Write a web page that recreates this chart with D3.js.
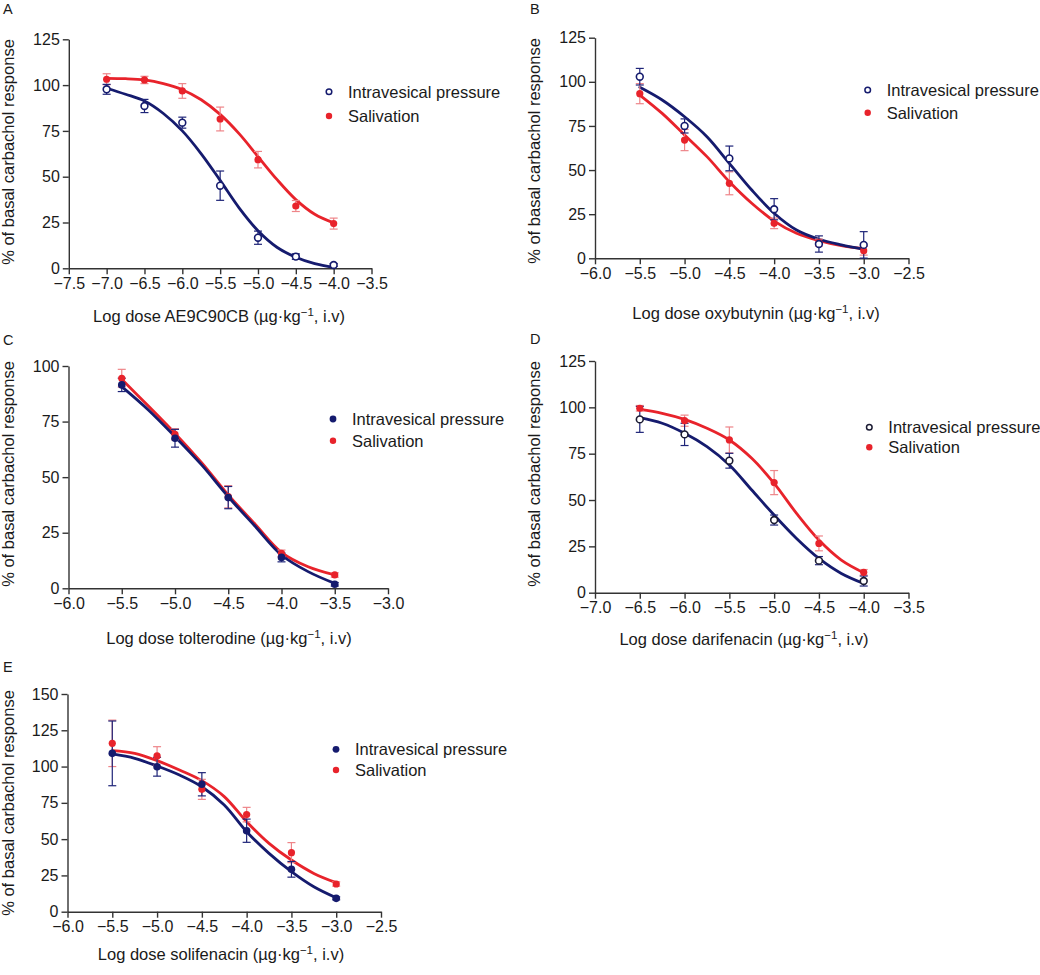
<!DOCTYPE html>
<html>
<head>
<meta charset="utf-8">
<script src="https://cdn.jsdelivr.net/npm/d3@7"></script>
<style>
  html, body { margin: 0; padding: 0; background: #fff; }
  svg { display: block; font-family: "Liberation Sans", Arial, Helvetica, sans-serif; }
</style>
</head>
<body>
<svg id="chart" width="1040" height="975"></svg>
<script>
// ---------------- DATA ----------------
const seriesNames = ["Intravesical pressure", "Salivation"];

// Panel A: AE9C90CB
const doseA = [-7.0, -6.5, -6.0, -5.5, -5.0, -4.5, -4.0];
const ivpA = [97.7, 88.6, 79.5, 45.1, 16.7, 6.4, 1.8];
const ivpErrA = [2.7, 3.6, 3.0, 8.0, 3.6, 1.5, 0.8];
const salA = [103.2, 102.8, 96.8, 81.5, 59.3, 34.0, 24.4];
const salErrA = [3.0, 2.0, 4.0, 6.5, 4.5, 3.0, 3.0];
const curveDoseA = [-7.0, -6.75, -6.5, -6.25, -6.0, -5.75, -5.5, -5.25, -5.0, -4.75, -4.5, -4.25, -4.0];
const ivpCurveA = [98.3, 95.0, 91.3, 84.5, 75.0, 62.5, 48.0, 33.0, 20.5, 11.5, 6.0, 2.5, 0.5];
const salCurveA = [103.7, 103.5, 102.8, 100.8, 97.5, 92.0, 84.0, 73.5, 61.0, 48.5, 37.5, 29.5, 24.8];
const xTicksA = [-7.5, -7.0, -6.5, -6.0, -5.5, -5.0, -4.5, -4.0, -3.5];
const yTicksA = [0, 25, 50, 75, 100, 125];

// Panel B: oxybutynin
const doseB = [-5.5, -5.0, -4.5, -4.0, -3.5, -3.0];
const ivpB = [102.9, 75.0, 56.6, 27.8, 8.1, 7.6];
const ivpErrB = [4.7, 4.0, 7.0, 6.0, 4.6, 7.5];
const salB = [93.3, 67.0, 42.5, 19.8, 8.9, 4.3];
const salErrB = [5.7, 6.0, 6.5, 3.0, 2.0, 2.5];
const curveDoseB = [-5.5, -5.25, -5.0, -4.75, -4.5, -4.25, -4.0, -3.75, -3.5, -3.25, -3.0];
const ivpCurveB = [96.9, 89.7, 80.2, 68.9, 53.8, 38.7, 25.5, 16.0, 10.8, 7.6, 5.1];
const salCurveB = [92.5, 82.1, 69.9, 57.6, 43.4, 31.2, 21.1, 14.2, 10.0, 7.2, 5.5];
const xTicksB = [-6.0, -5.5, -5.0, -4.5, -4.0, -3.5, -3.0, -2.5];
const yTicksB = [0, 25, 50, 75, 100, 125];

// Panel C: tolterodine
const doseC = [-5.5, -5.0, -4.5, -4.0, -3.5];
const ivpC = [91.5, 67.5, 40.8, 13.9, 1.8];
const ivpErrC = [3.0, 4.0, 5.0, 2.0, 0.8];
const salC = [94.5, 69.3, 41.2, 15.7, 6.0];
const salErrC = [4.0, 2.5, 5.0, 1.5, 1.0];
const curveDoseC = [-5.5, -5.25, -5.0, -4.75, -4.5, -4.25, -4.0, -3.75, -3.5];
const ivpCurveC = [90.7, 80.2, 68.2, 55.5, 41.2, 28.0, 15.0, 7.5, 2.2];
const salCurveC = [94.0, 82.0, 69.7, 56.5, 42.0, 29.0, 16.2, 9.7, 6.0];
const xTicksC = [-6.0, -5.5, -5.0, -4.5, -4.0, -3.5, -3.0];
const yTicksC = [0, 25, 50, 75, 100];

// Panel D: darifenacin
const doseD = [-6.5, -6.0, -5.5, -5.0, -4.5, -4.0];
const ivpD = [93.5, 85.4, 71.2, 39.2, 17.3, 6.3];
const ivpErrD = [7.0, 6.0, 4.0, 2.7, 2.2, 2.7];
const salD = [99.5, 92.8, 82.4, 59.4, 26.6, 11.0];
const salErrD = [1.5, 3.0, 7.0, 6.5, 4.0, 1.5];
const curveDoseD = [-6.5, -6.25, -6.0, -5.75, -5.5, -5.25, -5.0, -4.75, -4.5, -4.25, -4.0];
const ivpCurveD = [94.4, 91.4, 86.0, 78.8, 68.9, 55.4, 41.9, 29.3, 18.5, 10.4, 5.0];
const salCurveD = [98.9, 96.8, 93.5, 88.7, 82.4, 72.5, 59.0, 42.8, 28.4, 17.6, 10.8];
const xTicksD = [-7.0, -6.5, -6.0, -5.5, -5.0, -4.5, -4.0, -3.5];
const yTicksD = [0, 25, 50, 75, 100, 125];

// Panel E: solifenacin
const doseE = [-5.5, -5.0, -4.5, -4.0, -3.5, -3.0];
const ivpE = [109.1, 99.9, 87.8, 55.8, 29.2, 9.2];
const ivpErrE = [22.3, 6.5, 8.0, 8.0, 5.4, 1.0];
const salE = [116.0, 107.3, 84.3, 66.9, 40.7, 19.1];
const salErrE = [16.0, 6.4, 6.9, 5.0, 6.9, 1.5];
const curveDoseE = [-5.5, -5.25, -5.0, -4.75, -4.5, -4.25, -4.0, -3.75, -3.5, -3.25, -3.0];
const ivpCurveE = [108.7, 105.7, 100.4, 94.2, 86.1, 73.5, 55.1, 40.2, 27.6, 17.2, 9.6];
const salCurveE = [111.0, 109.1, 104.1, 97.6, 90.3, 79.3, 62.0, 47.1, 35.6, 26.4, 20.0];
const xTicksE = [-6.0, -5.5, -5.0, -4.5, -4.0, -3.5, -3.0, -2.5];
const yTicksE = [0, 25, 50, 75, 100, 125, 150];

const panelLetters = ["A", "B", "C", "D", "E"];
const drugNames = ["AE9C90CB", "oxybutynin", "tolterodine", "darifenacin", "solifenacin"];
const yTitle = "% of basal carbachol response";

// ---------------- STYLE / LAYOUT ----------------
const NAVY = "#151b6e";
const RED = "#e8232b";
const RED_ERR = "#ee8589";
const NAVY_ERR = "#1e2478";

const panels = [
  { letter: panelLetters[0], drug: drugNames[0],
    dose: doseA, ivp: ivpA, ivpErr: ivpErrA, sal: salA, salErr: salErrA,
    cDose: curveDoseA, ivpCurve: ivpCurveA, salCurve: salCurveA, xTicks: xTicksA, yTicks: yTicksA,
    xr: [68.8, 371.5], yr: [268.3, 39.3], ivpOpen: true, ivpMarkerColor: NAVY,
    letterPos: [3, 14], yTitlePos: [14, 152], xTitlePos: [219, 322], legend: [329, 91.7, 116] },
  { letter: panelLetters[1], drug: drugNames[1],
    dose: doseB, ivp: ivpB, ivpErr: ivpErrB, sal: salB, salErr: salErrB,
    cDose: curveDoseB, ivpCurve: ivpCurveB, salCurve: salCurveB, xTicks: xTicksB, yTicks: yTicksB,
    xr: [595, 908.5], yr: [258.3, 37.7], ivpOpen: true, ivpMarkerColor: NAVY,
    letterPos: [530, 14], yTitlePos: [540, 151], xTitlePos: [756, 319], legend: [867.7, 90, 112.7] },
  { letter: panelLetters[2], drug: drugNames[2],
    dose: doseC, ivp: ivpC, ivpErr: ivpErrC, sal: salC, salErr: salErrC,
    cDose: curveDoseC, ivpCurve: ivpCurveC, salCurve: salCurveC, xTicks: xTicksC, yTicks: yTicksC,
    xr: [68.5, 388], yr: [588.3, 366], ivpOpen: false, ivpMarkerColor: NAVY,
    letterPos: [3, 345], yTitlePos: [14, 474], xTitlePos: [229, 644], legend: [333, 419, 440.7] },
  { letter: panelLetters[3], drug: drugNames[3],
    dose: doseD, ivp: ivpD, ivpErr: ivpErrD, sal: salD, salErr: salErrD,
    cDose: curveDoseD, ivpCurve: ivpCurveD, salCurve: salCurveD, xTicks: xTicksD, yTicks: yTicksD,
    xr: [595, 908.5], yr: [592.7, 361], ivpOpen: true, ivpMarkerColor: "#1b1b33",
    letterPos: [530, 344], yTitlePos: [540, 474], xTitlePos: [744, 645], legend: [869.3, 427.3, 447.3] },
  { letter: panelLetters[4], drug: drugNames[4],
    dose: doseE, ivp: ivpE, ivpErr: ivpErrE, sal: salE, salErr: salErrE,
    cDose: curveDoseE, ivpCurve: ivpCurveE, salCurve: salCurveE, xTicks: xTicksE, yTicks: yTicksE,
    xr: [67.5, 381], yr: [911.7, 694], ivpOpen: false, ivpMarkerColor: NAVY,
    letterPos: [3, 672], yTitlePos: [14, 803], xTitlePos: [221, 960], legend: [336, 749.3, 770] }
];

const svg = d3.select("#chart");
const fmtX = d3.format(".1f");

panels.forEach(p => {
  const g = svg.append("g");
  const x = d3.scaleLinear().domain([p.xTicks[0], p.xTicks[p.xTicks.length - 1]]).range(p.xr);
  const y = d3.scaleLinear().domain([0, p.yTicks[p.yTicks.length - 1]]).range(p.yr);

  // axes
  const xAxis = d3.axisBottom(x).tickValues(p.xTicks).tickFormat(fmtX).tickSize(6).tickSizeOuter(0).tickPadding(3);
  const yAxis = d3.axisLeft(y).tickValues(p.yTicks).tickFormat(d3.format("d")).tickSize(6).tickSizeOuter(0).tickPadding(3);
  const gx = g.append("g").attr("transform", `translate(0,${p.yr[0]})`).call(xAxis);
  const gy = g.append("g").attr("transform", `translate(${p.xr[0]},0)`).call(yAxis);
  [gx, gy].forEach(ax => {
    ax.selectAll("path, line").attr("stroke", "#333").attr("stroke-width", 1.4);
    ax.selectAll("text").attr("fill", "#1a1a1a").style("font-size", "16px")
      .style("font-family", '"Liberation Sans", Arial, sans-serif');
  });

  // curves
  const line = d3.line().x(d => x(d[0])).y(d => y(d[1])).curve(d3.curveCatmullRom.alpha(0.5));
  g.append("path").datum(p.cDose.map((d, i) => [d, p.salCurve[i]]))
    .attr("d", line).attr("fill", "none").attr("stroke", RED).attr("stroke-width", 2.8).attr("stroke-linecap", "round");
  g.append("path").datum(p.cDose.map((d, i) => [d, p.ivpCurve[i]]))
    .attr("d", line).attr("fill", "none").attr("stroke", NAVY).attr("stroke-width", 2.8).attr("stroke-linecap", "round");

  // error bars
  const drawErr = (vals, errs, color) => {
    const eg = g.append("g").attr("stroke", color).attr("stroke-width", 1.2).attr("fill", "none");
    p.dose.forEach((d, i) => {
      const cx = x(d), y1 = y(vals[i] + errs[i]), y2 = y(vals[i] - errs[i]);
      eg.append("line").attr("x1", cx).attr("x2", cx).attr("y1", y1).attr("y2", y2);
      eg.append("line").attr("x1", cx - 4).attr("x2", cx + 4).attr("y1", y1).attr("y2", y1);
      eg.append("line").attr("x1", cx - 4).attr("x2", cx + 4).attr("y1", y2).attr("y2", y2);
    });
  };
  drawErr(p.sal, p.salErr, RED_ERR);
  drawErr(p.ivp, p.ivpErr, NAVY_ERR);

  // markers
  g.append("g").selectAll("circle").data(p.dose.map((d, i) => [d, p.sal[i]])).join("circle")
    .attr("cx", d => x(d[0])).attr("cy", d => y(d[1])).attr("r", 3.6).attr("fill", RED);
  g.append("g").selectAll("circle").data(p.dose.map((d, i) => [d, p.ivp[i]])).join("circle")
    .attr("cx", d => x(d[0])).attr("cy", d => y(d[1]))
    .attr("r", p.ivpOpen ? 3.4 : 3.8)
    .attr("fill", p.ivpOpen ? "#fff" : p.ivpMarkerColor)
    .attr("stroke", p.ivpOpen ? p.ivpMarkerColor : "none")
    .attr("stroke-width", 1.6);

  // legend
  const [lx, ly1, ly2] = p.legend;
  g.append("circle").attr("cx", lx).attr("cy", ly1).attr("r", p.ivpOpen ? 2.8 : 3.4)
    .attr("fill", p.ivpOpen ? "#fff" : p.ivpMarkerColor)
    .attr("stroke", p.ivpOpen ? p.ivpMarkerColor : "none").attr("stroke-width", 1.5);
  g.append("circle").attr("cx", lx).attr("cy", ly2).attr("r", 3.2).attr("fill", RED);
  [[ly1, seriesNames[0]], [ly2, seriesNames[1]]].forEach(([ly, t]) => {
    g.append("text").attr("x", lx + 19).attr("y", ly + 6).text(t)
      .attr("fill", "#1a1a1a").style("font-size", "16.5px");
  });

  // panel letter
  g.append("text").attr("x", p.letterPos[0]).attr("y", p.letterPos[1]).text(p.letter)
    .attr("fill", "#1a1a1a").style("font-size", "14.5px");

  // y title
  g.append("text").attr("transform", `translate(${p.yTitlePos[0]},${p.yTitlePos[1]}) rotate(-90)`)
    .attr("text-anchor", "middle").text(yTitle).attr("fill", "#1a1a1a").style("font-size", "16.5px");

  // x title with superscript
  const xt = g.append("text").attr("x", p.xTitlePos[0]).attr("y", p.xTitlePos[1])
    .attr("text-anchor", "middle").attr("fill", "#1a1a1a").style("font-size", "16.5px");
  xt.append("tspan").text(`Log dose ${p.drug} (\u00b5g\u00b7kg`);
  xt.append("tspan").attr("dy", -6).style("font-size", "11.5px").text("\u22121");
  xt.append("tspan").attr("dy", 6).text(", i.v)");
});
</script>
</body>
</html>
